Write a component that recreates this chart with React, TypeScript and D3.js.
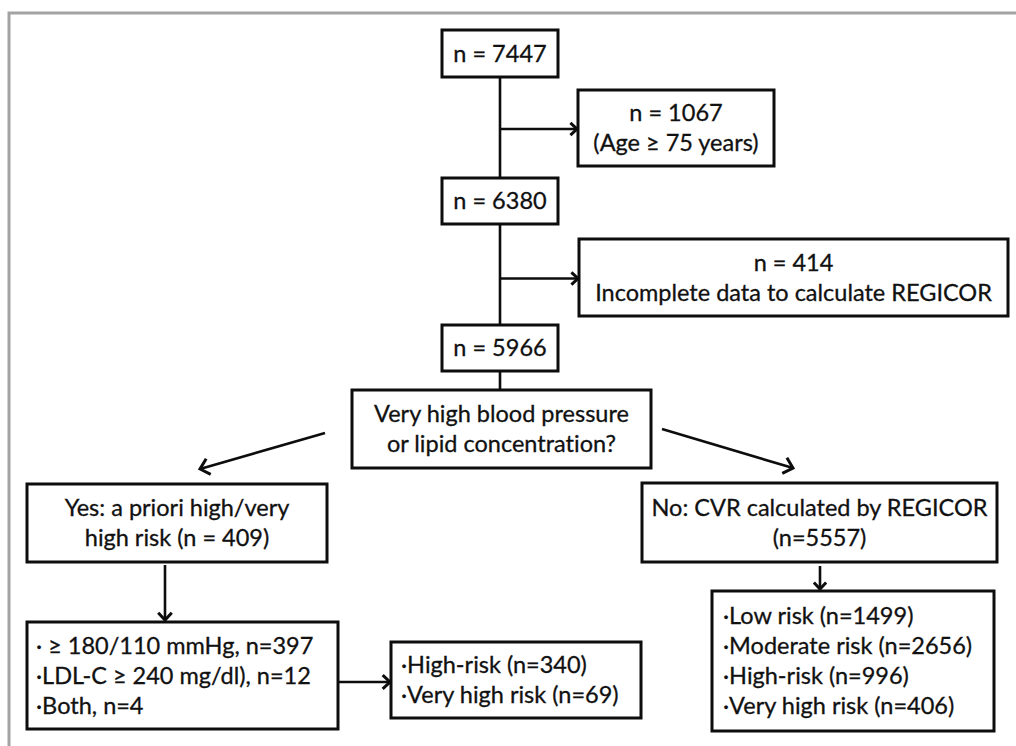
import { useEffect, useRef } from "react"
import * as d3 from "d3"

// flow counts / labels
const screeningLabels = ["n = 7447", "n = 6380", "n = 5966"]
const exclusionLabels = [
  ["n = 1067", "(Age ≥ 75 years)"],
  ["n = 414", "Incomplete data to calculate REGICOR"],
]
const questionLabel = ["Very high blood pressure", "or lipid concentration?"]
const branchLabels = [
  ["Yes: a priori high/very", "high risk (n = 409)"],
  ["No: CVR calculated by REGICOR", "(n=5557)"],
]
const aprioriCriteria = ["· ≥ 180/110 mmHg, n=397", "·LDL-C ≥ 240 mg/dl), n=12", "·Both, n=4"]
const aprioriRisk = ["·High-risk (n=340)", "·Very high risk (n=69)"]
const regicorRisk = ["·Low risk (n=1499)", "·Moderate risk (n=2656)", "·High-risk (n=996)", "·Very high risk (n=406)"]

type Box = { x: number; y: number; w: number; h: number }

// layout (pixels)
const screeningBoxes: Box[] = [
  { x: 442, y: 30, w: 116, h: 47 },
  { x: 442, y: 178, w: 116, h: 46 },
  { x: 442, y: 325, w: 116, h: 46 },
]
const exclusionBoxes: Box[] = [
  { x: 578, y: 90, w: 196, h: 76 },
  { x: 579, y: 239, w: 429, h: 77 },
]
const questionBox: Box = { x: 352, y: 390, w: 299, h: 78 }
const branchBoxes: Box[] = [
  { x: 27, y: 484, w: 300, h: 78 },
  { x: 642, y: 483, w: 355, h: 79 },
]
const criteriaBox: Box = { x: 27, y: 622, w: 311, h: 107 }
const aprioriRiskBox: Box = { x: 391, y: 642, w: 250, h: 76 }
const regicorBox: Box = { x: 712, y: 591, w: 282, h: 140 }

const FONT = "Lato, 'Open Sans', sans-serif"
const FONT_SIZE = 23.5
const LINE_H = 30

export default function App() {
  const svgRef = useRef<SVGSVGElement>(null)
  const width = 1016
  const height = 746

  useEffect(() => {
    if (!svgRef.current) return
    const svg = d3.select(svgRef.current)
    svg.selectAll("*").remove()

    svg.append("rect").attr("width", width).attr("height", height).attr("fill", "#fff")

    // outer grey frame
    svg.append("rect")
      .attr("x", 9)
      .attr("y", 13)
      .attr("width", 1200)
      .attr("height", 900)
      .attr("fill", "none")
      .attr("stroke", "#a3a3a3")
      .attr("stroke-width", 3)

    const links = svg.append("g").attr("stroke", "#0d0d0d").attr("stroke-width", 2.6).attr("fill", "none")

    const arrow = (x1: number, y1: number, x2: number, y2: number, head = 9) => {
      links.append("line").attr("x1", x1).attr("y1", y1).attr("x2", x2).attr("y2", y2)
      const a = Math.atan2(y2 - y1, x2 - x1)
      const spread = Math.PI / 4.2
      const p1: [number, number] = [x2 - head * Math.cos(a - spread), y2 - head * Math.sin(a - spread)]
      const p2: [number, number] = [x2 - head * Math.cos(a + spread), y2 - head * Math.sin(a + spread)]
      links.append("path")
        .attr("d", d3.line()([p1, [x2, y2], p2]))
        .attr("stroke-width", 3)
        .attr("stroke-linejoin", "miter")
    }

    const trunkX = screeningBoxes[0].x + screeningBoxes[0].w / 2
    // main trunk
    links.append("line")
      .attr("x1", trunkX)
      .attr("y1", screeningBoxes[0].y + screeningBoxes[0].h)
      .attr("x2", trunkX)
      .attr("y2", questionBox.y)

    // exclusions
    exclusionBoxes.forEach((b) => {
      const cy = b.y + b.h / 2 + 1
      arrow(trunkX, cy, b.x - 1, cy)
    })

    // question -> branches
    arrow(325, 433, 200, 469, 12)
    arrow(662, 429, 793, 468, 12)

    // branch -> subgroups
    arrow(165, 565, 165, 620, 10)
    arrow(820, 566, 820, 589)
    arrow(criteriaBox.x + criteriaBox.w, 682, aprioriRiskBox.x - 1, 682, 10)

    const drawBox = (b: Box, lines: string[], align: "middle" | "start" = "middle", padX = 12) => {
      const g = svg.append("g")
      g.append("rect")
        .attr("x", b.x)
        .attr("y", b.y)
        .attr("width", b.w)
        .attr("height", b.h)
        .attr("fill", "#fff")
        .attr("stroke", "#0d0d0d")
        .attr("stroke-width", 3)
      const cy = b.y + b.h / 2
      const tx = align === "middle" ? b.x + b.w / 2 : b.x + padX
      g.selectAll("text")
        .data(lines)
        .enter()
        .append("text")
        .attr("x", tx)
        .attr("y", (_, i) => cy + (i - (lines.length - 1) / 2) * LINE_H + 8)
        .attr("text-anchor", align)
        .attr("font-family", FONT)
        .attr("font-size", FONT_SIZE)
        .style("font-variant-ligatures", "none")
        .attr("fill", "#111")
        .attr("stroke", "#111")
        .attr("stroke-width", 0.3)
        .text((d) => d)
    }

    screeningBoxes.forEach((b, i) => drawBox(b, [screeningLabels[i]]))
    exclusionBoxes.forEach((b, i) => drawBox(b, exclusionLabels[i]))
    drawBox(questionBox, questionLabel)
    branchBoxes.forEach((b, i) => drawBox(b, branchLabels[i]))
    drawBox(criteriaBox, aprioriCriteria, "start", 9)
    drawBox(aprioriRiskBox, aprioriRisk, "start", 10)
    drawBox(regicorBox, regicorRisk, "start", 11)
  }, [])

  return (
    <div style={{ position: "absolute", left: 0, top: 0 }}>
      <svg ref={svgRef} width={width} height={height} style={{ display: "block" }} />
    </div>
  )
}
